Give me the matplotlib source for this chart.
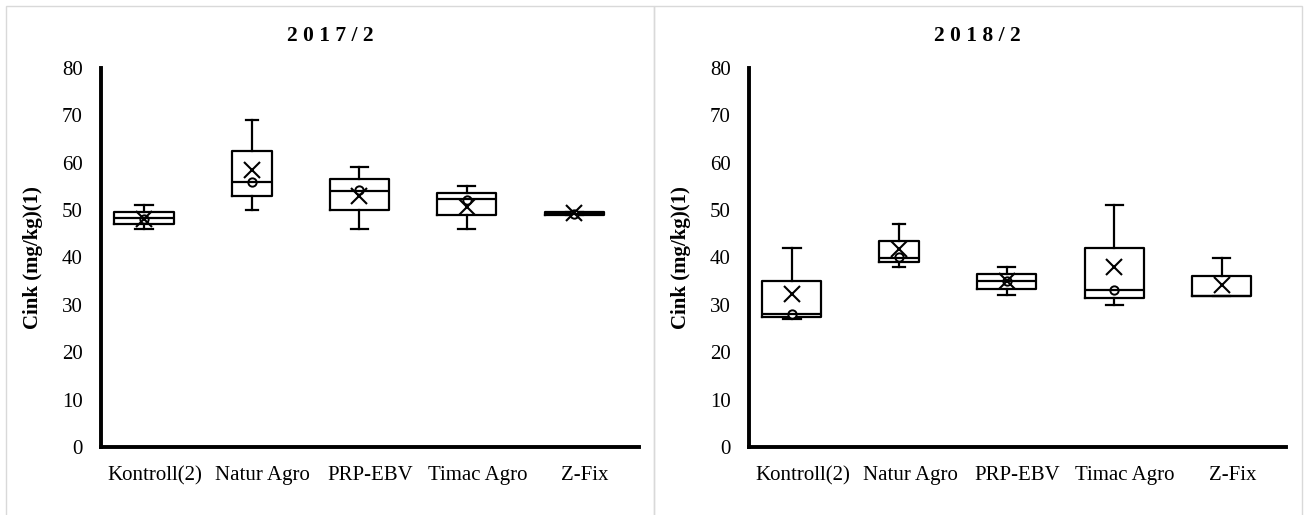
import numpy as np
import matplotlib
matplotlib.use("Agg")
import matplotlib.pyplot as plt
from matplotlib.patches import Rectangle

plt.rcParams['font.family'] = ['Liberation Serif', 'DejaVu Serif']

groups = ['Kontroll(2)', 'Natur Agro', 'PRP-EBV', 'Timac Agro', 'Z-Fix']
panel_titles = ['2 0 1 7 / 2', '2 0 1 8 / 2']
y_label = 'Cink (mg/kg)(1)'

# 2017/2
lo_2017 = [46.1, 50.1, 46.1, 46.1, 48.9]
q1_2017 = [47.1, 53.0, 50.0, 48.9, 48.9]
med_2017 = [48.3, 56.0, 54.1, 52.3, 49.2]
q3_2017 = [49.6, 62.5, 56.5, 53.6, 49.6]
hi_2017 = [51.1, 69.1, 59.0, 55.0, 49.6]
mean_2017 = [48.2, 58.4, 53.0, 50.7, 49.3]
inner_2017 = [48.2, 56.0, 54.2, 52.1, 49.2]

# 2018/2
lo_2018 = [27.1, 38.0, 32.0, 29.9, 31.9]
q1_2018 = [27.5, 39.0, 33.4, 31.5, 31.9]
med_2018 = [28.0, 40.0, 35.0, 33.1, 31.9]
q3_2018 = [35.1, 43.5, 36.5, 42.1, 36.0]
hi_2018 = [42.0, 47.1, 37.9, 51.1, 40.0]
mean_2018 = [32.2, 41.7, 35.1, 37.9, 34.3]
inner_2018 = [28.0, 40.2, 35.0, 33.1, np.nan]

panels = [
    (lo_2017, q1_2017, med_2017, q3_2017, hi_2017, mean_2017, inner_2017),
    (lo_2018, q1_2018, med_2018, q3_2018, hi_2018, mean_2018, inner_2018),
]

W, H = 1307, 515
fig = plt.figure(figsize=(W / 100, H / 100), dpi=100)

# panel frames
for x0, x1 in [(6, 654), (654, 1302)]:
    fig.patches.append(Rectangle((x0 / W, -0.05), (x1 - x0) / W, 1.05 - 6 / H,
                                 transform=fig.transFigure, fill=False,
                                 edgecolor='#d9d9d9', linewidth=1))

axes_px = [(101, 639), (749, 1286)]
title_x = [330, 977]
widths = [0.55, 0.37, 0.55, 0.55, 0.55]
capw = [0.16, 0.11, 0.16, 0.16, 0.16]
pos = np.arange(len(groups))
box_pos = pos - 0.1

for k, (lo, q1, med, q3, hi, mn, inner) in enumerate(panels):
    xa, xb = axes_px[k]
    ax = fig.add_axes([xa / W, (H - 447) / H, (xb - xa) / W, 379 / H])
    stats = []
    for i in range(len(groups)):
        stats.append({'whislo': lo[i], 'q1': q1[i], 'med': med[i], 'q3': q3[i],
                      'whishi': hi[i], 'mean': mn[i], 'fliers': []})
    lp = dict(color='black', linewidth=1.6)
    ax.bxp(stats, positions=box_pos, widths=widths, capwidths=capw,
           showmeans=True, showfliers=False,
           boxprops=lp, whiskerprops=lp, capprops=lp, medianprops=lp,
           meanprops=dict(marker='x', markersize=11, markeredgecolor='black',
                          markeredgewidth=1.5, linestyle='none'),
           manage_ticks=False)
    ax.plot(box_pos, inner, linestyle='none', marker='o', markersize=6,
            markerfacecolor='white', markeredgecolor='black', markeredgewidth=1.4)

    ax.set_xlim(-0.5, len(groups) - 0.5)
    ax.set_ylim(0, 80)
    ax.set_yticks(np.arange(0, 81, 10))
    ax.set_xticks(pos)
    ax.set_xticklabels(groups, fontsize=15)
    ax.tick_params(axis='y', length=0, pad=13, labelsize=15)
    ax.tick_params(axis='x', length=0, pad=14)
    for s in ['top', 'right']:
        ax.spines[s].set_visible(False)
    for s in ['left', 'bottom']:
        ax.spines[s].set_linewidth(2.8)
    ax.set_ylabel(y_label, fontsize=15, fontweight='bold')
    ax.yaxis.set_label_coords(-0.108, 0.5)
    fig.text(title_x[k] / W, 1 - 36 / H, panel_titles[k], ha='center', va='center',
             fontsize=15.5, fontweight='bold')

fig.savefig('out.png', dpi=100)
